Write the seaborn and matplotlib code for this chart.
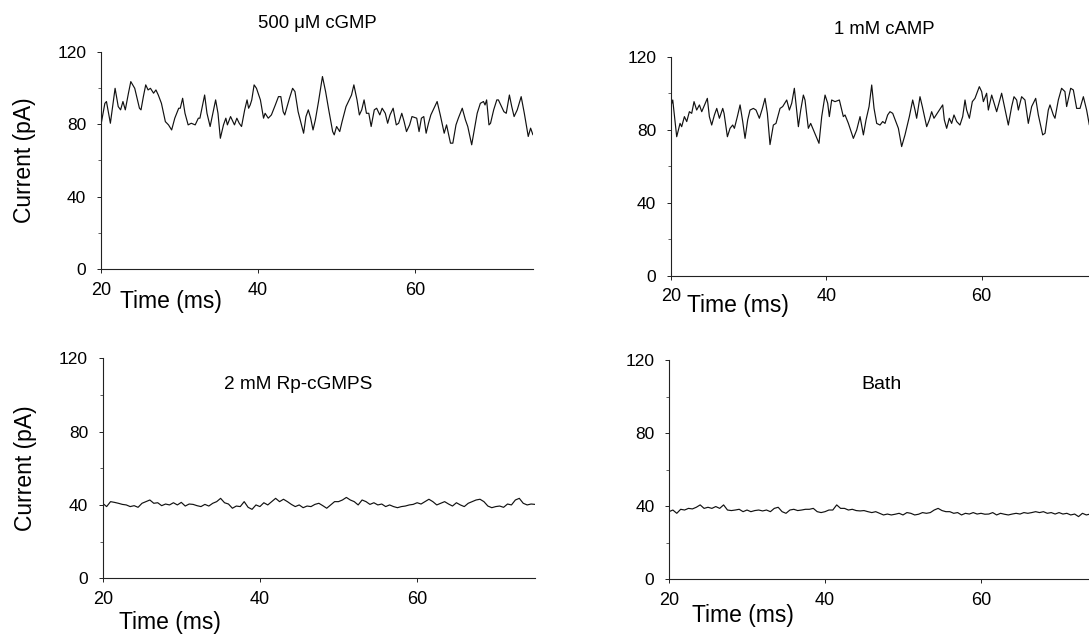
import matplotlib
matplotlib.use("Agg")
import matplotlib.pyplot as plt
from matplotlib.ticker import FixedLocator
import seaborn as sns
import pandas as pd

# ---------------- data ----------------
titles = ["500 \u03bcM cGMP", "1 mM cAMP", "2 mM Rp-cGMPS", "Bath"]
x_ticks = [20, 40, 60]
y_ticks = [0, 40, 80, 120]
y_minor = [20, 60, 100]

cgmp_t = [20.0, 20.5, 20.7, 21.2, 21.8, 22.2, 22.5, 22.8, 23.1, 23.5, 23.8, 24.3, 24.9, 25.1,
          25.4, 25.7, 26.0, 26.3, 26.7, 27.0, 27.3, 27.7, 28.2, 28.6, 29.0, 29.4, 29.9, 30.1,
          30.4, 30.7, 31.1, 31.5, 32.0, 32.4, 32.6, 32.9, 33.2, 33.5, 33.9, 34.2, 34.6, 34.9,
          35.2, 35.6, 35.9, 36.1, 36.5, 36.8, 37.0, 37.3, 37.6, 37.9, 38.3, 38.6, 38.8, 39.0,
          39.2, 39.5, 39.8, 40.3, 40.7, 40.9, 41.3, 41.7, 42.2, 42.6, 42.9, 43.2, 43.4, 44.0,
          44.4, 44.7, 45.1, 45.8, 46.1, 46.4, 46.7, 47.0, 47.3, 47.7, 48.2, 48.6, 49.0, 49.5,
          49.7, 50.0, 50.4, 50.7, 51.2, 51.5, 51.9, 52.2, 52.6, 52.9, 53.2, 53.5, 53.8, 54.1,
          54.4, 54.8, 55.1, 55.5, 55.8, 56.2, 56.5, 56.8, 57.2, 57.6, 57.9, 58.3, 58.6, 58.9,
          59.3, 59.6, 60.2, 60.5, 60.8, 61.1, 61.4, 61.7, 62.0, 62.3, 62.8, 63.2, 63.7, 64.0,
          64.5, 64.8, 65.2, 65.5, 66.0, 66.4, 66.7, 67.2, 67.6, 67.9, 68.3, 68.7, 68.9, 69.1,
          69.4, 69.6, 70.0, 70.4, 70.6, 71.3, 71.6, 72.0, 72.3, 72.6, 73.0, 73.5, 73.9, 74.4,
          74.7, 75.0]
cgmp_i = [79.6, 91.5, 92.5, 80.5, 99.8, 89.7, 87.9, 92.5, 87.9, 97.1, 103.5, 99.8, 88.8, 87.9,
          95.2, 101.7, 98.9, 99.8, 97.1, 98.9, 96.1, 91.5, 81.4, 79.6, 76.8, 83.3, 88.8, 88.8,
          94.3, 86.0, 79.6, 80.5, 79.6, 83.3, 83.3, 89.7, 96.1, 86.0, 78.7, 85.1, 93.4, 86.0,
          72.2, 79.6, 83.3, 79.6, 84.2, 81.4, 79.6, 83.3, 80.5, 78.7, 87.9, 93.4, 88.8, 90.6,
          93.4, 101.7, 99.8, 93.4, 83.3, 86.0, 83.3, 85.1, 90.6, 95.2, 95.2, 86.9, 85.1, 94.3,
          99.8, 98.0, 86.9, 75.0, 84.2, 87.9, 83.3, 76.8, 82.4, 92.5, 106.3, 98.0, 87.9, 75.9,
          74.1, 78.7, 75.9, 81.4, 89.7, 92.5, 96.1, 101.7, 93.4, 85.1, 87.9, 93.4, 86.0, 86.0,
          78.7, 87.9, 88.8, 85.1, 88.8, 86.0, 80.5, 85.1, 88.8, 79.6, 80.5, 86.0, 81.4, 75.9,
          79.6, 84.2, 83.3, 75.9, 83.3, 84.2, 75.0, 80.5, 85.1, 87.9, 92.5, 85.1, 75.0, 79.6,
          69.5, 69.5, 79.6, 83.3, 88.8, 82.4, 78.7, 68.6, 78.7, 86.0, 91.5, 92.5, 90.6, 93.4,
          79.6, 80.5, 87.9, 93.4, 93.4, 86.9, 86.0, 96.1, 89.7, 84.2, 87.9, 95.2, 86.0, 73.2,
          77.8, 74.1]

camp_t = [20.0, 20.26, 20.77, 21.2, 21.41, 21.76, 22.06, 22.4, 22.7, 23.0, 23.34, 23.69, 23.99,
          24.71, 24.97, 25.27, 25.62, 25.92, 26.26, 26.69, 26.86, 27.29, 27.63, 27.97, 28.19,
          28.57, 28.92, 29.26, 29.56, 29.9, 30.2, 30.63, 30.97, 31.4, 31.79, 32.13, 32.43,
          32.77, 33.2, 33.54, 34.06, 34.4, 34.92, 35.26, 35.56, 35.9, 36.2, 36.42, 36.72,
          37.06, 37.27, 37.7, 38.0, 38.35, 39.07, 39.42, 39.85, 40.19, 40.4, 40.7, 41.13,
          41.69, 42.2, 42.42, 42.85, 43.49, 43.92, 44.35, 44.78, 45.12, 45.51, 45.85, 46.15,
          46.49, 46.92, 47.26, 47.56, 47.9, 48.2, 48.55, 49.28, 49.7, 50.13, 50.69, 51.12,
          51.42, 51.63, 52.06, 52.36, 52.92, 53.26, 53.56, 53.86, 54.98, 55.19, 55.49, 55.83,
          56.13, 56.43, 56.78, 57.2, 57.55, 57.85, 58.06, 58.41, 58.79, 59.13, 59.69, 59.99,
          60.21, 60.63, 60.85, 61.28, 61.92, 62.56, 63.42, 63.85, 64.15, 64.49, 64.71, 65.13,
          65.56, 65.99, 66.42, 66.94, 67.28, 67.84, 68.14, 68.56, 68.78, 69.21, 69.42, 69.85,
          70.27, 70.7, 70.92, 71.44, 71.78, 72.21, 72.64, 73.07, 73.49, 73.84, 74.4, 75.0]
camp_i = [92.7, 96.3, 76.2, 83.5, 81.7, 87.2, 84.5, 89.9, 89.0, 95.4, 90.8, 93.6, 89.9,
          97.2, 87.2, 82.6, 88.1, 91.7, 86.3, 91.7, 89.0, 76.2, 80.8, 82.6, 80.8,
          87.2, 93.6, 84.5, 75.3, 85.4, 90.8, 91.7, 90.8, 86.3, 91.7, 97.2, 89.0,
          71.9, 82.6, 83.5, 91.7, 92.7, 96.3, 90.8, 94.5, 102.7, 90.8, 81.7, 90.8,
          99.0, 96.3, 80.8, 83.5, 79.9, 72.6, 87.2, 99.0, 94.5, 87.2, 96.3, 95.4,
          96.3, 87.2, 88.1, 83.5, 75.3, 79.9, 87.2, 77.2, 85.4, 92.7, 104.5, 91.7,
          83.5, 82.6, 84.5, 83.5, 88.1, 89.9, 89.0, 80.8, 70.8, 77.2, 87.2, 96.3,
          90.8, 86.3, 98.1, 92.7, 81.7, 85.4, 89.9, 86.3, 93.6, 85.4, 80.8, 86.3,
          83.5, 88.1, 84.5, 82.6, 87.2, 96.3, 90.8, 86.3, 95.4, 97.2, 103.6, 100.9,
          95.4, 100.0, 90.8, 99.0, 89.9, 100.0, 82.6, 92.7, 98.1, 96.3, 90.8, 98.1,
          96.3, 83.5, 92.7, 97.2, 88.1, 77.2, 78.1, 90.8, 93.6, 88.1, 86.3, 96.3,
          102.7, 100.9, 92.7, 102.7, 101.8, 91.7, 91.7, 98.1, 90.8, 82.6, 86.0, 84.0]

rp_t = [20.0 + 0.5 * k for k in range(111)]
rp_i = [40.9, 39.1, 41.8, 41.4, 40.9, 40.3, 40.0, 39.1, 39.6, 38.7, 40.9, 41.8, 42.7, 40.9,
        41.2, 39.6, 40.5, 40.0, 41.2, 40.0, 41.4, 39.4, 40.5, 40.3, 39.6, 39.1, 40.3, 39.4,
        40.9, 41.8, 43.6, 41.2, 40.5, 38.2, 39.4, 39.1, 41.8, 38.7, 37.6, 40.0, 39.1, 41.2,
        40.0, 41.8, 43.6, 41.8, 43.1, 41.8, 40.3, 39.1, 40.0, 38.5, 39.4, 39.1, 40.3, 40.9,
        39.6, 38.2, 40.0, 41.8, 41.8, 42.7, 44.1, 42.7, 41.8, 40.0, 42.7, 41.8, 40.3, 41.2,
        40.0, 40.5, 39.1, 40.0, 39.1, 38.5, 39.1, 39.4, 40.0, 40.3, 41.2, 40.5, 41.8, 43.1,
        41.8, 40.0, 40.9, 41.8, 40.5, 39.4, 41.2, 40.0, 39.1, 40.9, 41.8, 42.7, 43.1, 41.8,
        39.4, 38.5, 39.1, 39.4, 38.7, 40.5, 40.0, 42.7, 43.6, 40.9, 40.0, 40.5, 40.3]

bath_t = [20.0 + 0.5 * k for k in range(111)]
bath_i = [37.0, 37.9, 36.1, 38.3, 37.9, 38.8, 38.5, 39.4, 40.7, 38.8, 39.4, 38.8, 39.8, 38.8,
          40.7, 37.9, 37.6, 37.9, 38.3, 37.0, 37.9, 37.0, 37.6, 37.9, 37.4, 37.9, 37.0, 38.8,
          39.4, 37.0, 36.1, 37.9, 38.3, 37.6, 37.9, 38.3, 38.3, 38.8, 37.0, 36.5, 37.0, 37.9,
          37.9, 40.7, 38.8, 38.8, 37.9, 38.3, 37.6, 37.4, 37.6, 37.0, 36.5, 37.0, 36.1, 35.2,
          35.7, 35.2, 35.6, 36.1, 35.2, 36.5, 36.1, 35.2, 35.6, 36.5, 36.1, 36.5, 37.9, 38.8,
          37.6, 37.0, 37.0, 36.1, 36.5, 35.2, 36.1, 35.7, 36.5, 35.7, 36.1, 35.6, 35.7, 36.5,
          35.2, 36.1, 35.6, 35.2, 35.7, 36.1, 35.7, 36.5, 36.1, 36.5, 37.0, 36.5, 37.0, 36.1,
          36.5, 35.7, 36.5, 35.7, 36.1, 35.2, 35.7, 34.3, 36.1, 35.2, 35.7, 36.1, 35.2]

# ---------------- style ----------------
sns.set_theme(style="white")
plt.rcParams["font.family"] = ["Liberation Sans", "DejaVu Sans"]
plt.rcParams["axes.edgecolor"] = "#222222"
plt.rcParams["text.color"] = "black"
plt.rcParams["axes.labelcolor"] = "black"
plt.rcParams["axes.titlecolor"] = "black"

fig = plt.figure(figsize=(10.89, 6.34), dpi=100)

positions = [
    [0.0927, 0.5757, 0.3967, 0.3427],
    [0.6159, 0.5647, 0.3927, 0.3459],
    [0.0943, 0.0879, 0.3970, 0.3470],
    [0.6143, 0.0863, 0.3940, 0.3459],
]
series = [(cgmp_t, cgmp_i), (camp_t, camp_i), (rp_t, rp_i), (bath_t, bath_i)]
xlabel_pos = [(0.163, -0.150), (0.157, -0.135), (0.156, -0.199), (0.1725, -0.167)]

axes = []
for k, (pos, (tt, ii)) in enumerate(zip(positions, series)):
    ax = fig.add_axes(pos)
    df = pd.DataFrame({"Time (ms)": tt, "Current (pA)": ii})
    sns.lineplot(data=df, x="Time (ms)", y="Current (pA)", ax=ax,
                 color="#111111", linewidth=0.85, estimator=None, sort=False)
    ax.set_xlim(20, 75)
    ax.set_ylim(0, 120)
    ax.set_xticks(x_ticks)
    ax.set_yticks(y_ticks)
    ax.yaxis.set_minor_locator(FixedLocator(y_minor))
    ax.tick_params(axis="x", which="major", direction="out", length=3, width=0.7,
                   labelsize=13, pad=6, colors="#222222", labelcolor="black")
    ax.tick_params(axis="y", which="major", direction="out", length=3, width=0.7,
                   labelsize=12.5, pad=7.5, colors="#222222", labelcolor="black", left=True)
    ax.tick_params(axis="y", which="minor", direction="out", length=2, width=0.6,
                   colors="#444444", left=True)
    ax.tick_params(axis="x", bottom=True)
    for side in ("top", "right"):
        ax.spines[side].set_visible(False)
    for side in ("left", "bottom"):
        ax.spines[side].set_linewidth(0.8)
    ax.set_xlabel("Time (ms)", fontsize=16.5, color="black")
    ax.xaxis.set_label_coords(*xlabel_pos[k])
    ax.xaxis.label.set_va("center")
    if k in (0, 2):
        ax.set_ylabel("Current (pA)", fontsize=16.5, color="black")
        ax.yaxis.set_label_coords(-0.178, 0.5)
        ax.yaxis.label.set_va("center")
    else:
        ax.set_ylabel("")
    axes.append(ax)

axes[0].set_title(titles[0], fontsize=13.3, pad=17, color="black")
axes[1].set_title(titles[1], fontsize=13.3, pad=16.3, color="black")
axes[2].text(44.9, 105.6, titles[2], fontsize=13.7, ha="center", va="center", color="black")
axes[3].text(47.3, 106.7, titles[3], fontsize=14, ha="center", va="center", color="black")

fig.savefig("out.png", dpi=100, facecolor="white")
